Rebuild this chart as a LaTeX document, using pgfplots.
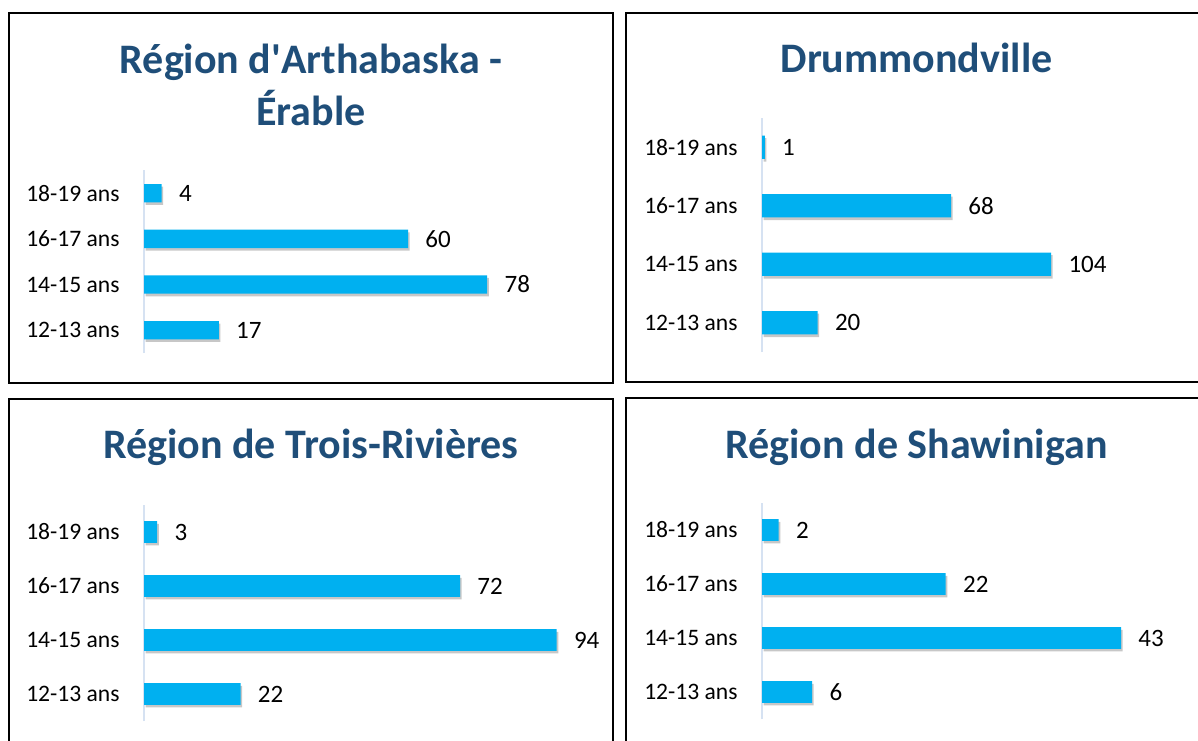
\documentclass[border=0pt]{standalone}
\usepackage{fontspec}
\setmainfont{Carlito}
\usepackage{pgfplots}
\pgfplotsset{compat=1.18}
\usetikzlibrary{shadows}

\definecolor{barc}{HTML}{00B0F0}
\definecolor{titlec}{HTML}{1F4E79}
\definecolor{axisc}{HTML}{D6E2F2}

\pgfplotsset{
panel/.style={
  xbar,
  scale only axis,
  bar width=0.4,
  xmin=0, ymin=-0.5, ymax=3.5,
  hide x axis,
  axis y line*=left,
  y axis line style={draw=axisc, line width=0.9pt, -},
  ytick={0,1,2,3},
  yticklabels={12-13 ans,14-15 ans,16-17 ans,18-19 ans},
  major tick length=0pt,
  yticklabel style={font=\fontsize{11.8}{14}\selectfont, anchor=east, inner sep=0pt, xshift=-12pt},
  nodes near coords={\pgfmathprintnumber[assume math mode=true]{\pgfplotspointmeta}},
  nodes near coords style={font=\fontsize{12.5}{15}\selectfont, anchor=west, inner sep=0pt, xshift=8.5pt, black},
  anchor=south west,
  clip=false,
},
bars/.style={fill=barc, draw=none,
  drop shadow={shadow xshift=0.8pt, shadow yshift=-1.3pt, opacity=0.22, fill=black}},
}

\begin{document}
\begin{tikzpicture}
\useasboundingbox (0,0) rectangle (599pt,370pt);
\fill[white] (0,0) rectangle (599pt,370pt);

% frames
\draw[line width=1pt] (4.5pt,178.5pt) rectangle (306.5pt,363.25pt);
\draw[line width=1pt] (313pt,179.15pt) rectangle (612pt,363.25pt);
\draw[line width=1pt] (4.5pt,-10pt) rectangle (306.5pt,170.5pt);
\draw[line width=1pt] (313pt,-10pt) rectangle (612pt,171pt);

% titles
\begin{scope}[every node/.style={font=\fontsize{21}{26}\bfseries\selectfont, text=titlec, anchor=base, inner sep=0pt}]
\node at (155.5pt,333pt) {Région d\textquotesingle Arthabaska -};
\node at (155.5pt,307pt) {Érable};
\node at (458.25pt,333.5pt) {Drummondville};
\node at (155.5pt,141pt) {Région de Trois-Rivières};
\node at (458.25pt,141pt) {Région de Shawinigan};
\end{scope}

% Region d'Arthabaska - Erable
\begin{axis}[panel, at={(72pt,193.5pt)}, width=220pt, height=91.3pt, xmax=100]
\addplot[bars] coordinates {(17,0) (78,1) (60,2) (4,3)};
\end{axis}

% Drummondville
\begin{axis}[panel, at={(381pt,194pt)}, width=194.6pt, height=117pt, xmax=140]
\addplot[bars] coordinates {(20,0) (104,1) (68,2) (1,3)};
\end{axis}

% Region de Trois-Rivieres
\begin{axis}[panel, at={(72pt,9.5pt)}, width=219.5pt, height=108pt, xmax=100]
\addplot[bars] coordinates {(22,0) (94,1) (72,2) (3,3)};
\end{axis}

% Region de Shawinigan
\begin{axis}[panel, at={(381pt,10.5pt)}, width=208.75pt, height=108pt, xmax=50]
\addplot[bars] coordinates {(6,0) (43,1) (22,2) (2,3)};
\end{axis}

\end{tikzpicture}
\end{document}
